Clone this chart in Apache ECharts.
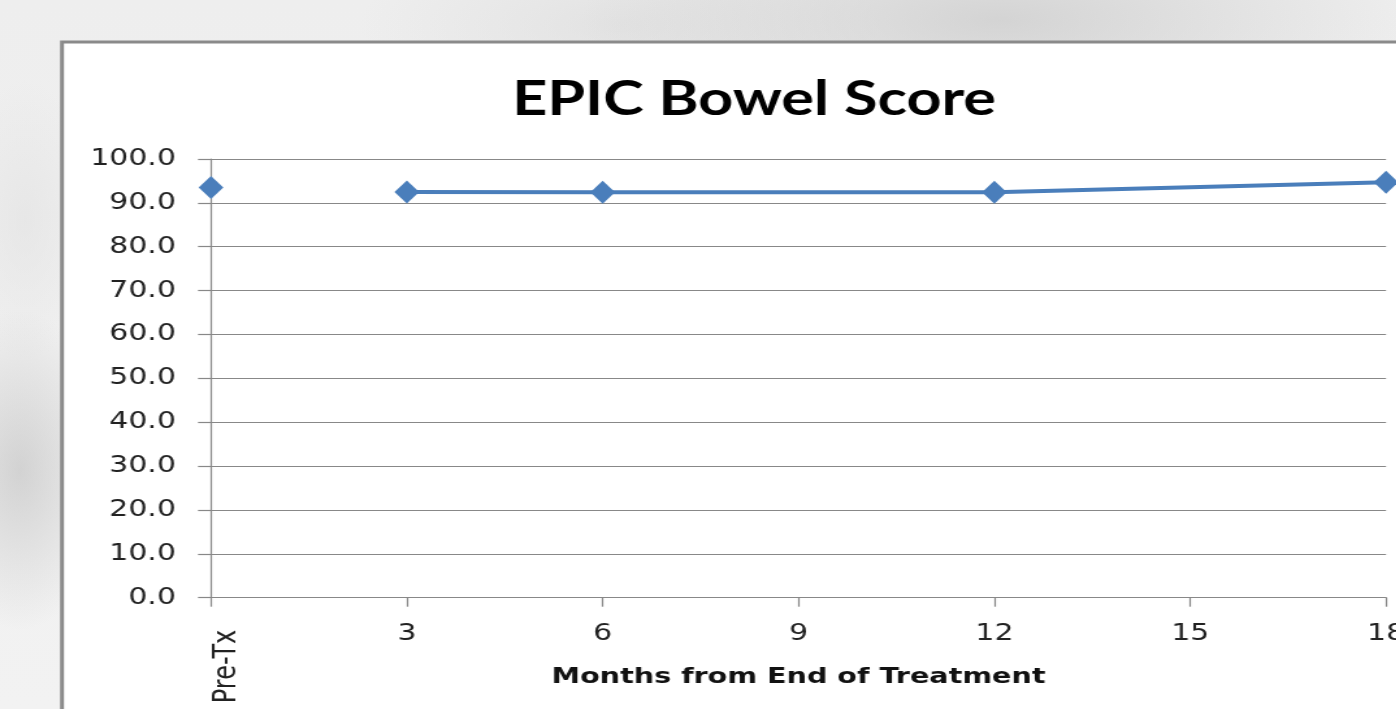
<!DOCTYPE html>
<html>
<head>
<meta charset="utf-8">
<title>EPIC Bowel Score</title>
<script src="https://cdn.jsdelivr.net/npm/echarts@6/dist/echarts.min.js"></script>
<style>
  html, body { margin: 0; padding: 0; width: 1396px; height: 709px; overflow: hidden; }
  body {
    background:
      radial-gradient(ellipse 420px 120px at 1000px 20px, rgba(190,190,190,0.55), rgba(190,190,190,0) 100%),
      radial-gradient(ellipse 260px 90px at 620px 25px, rgba(215,215,215,0.5), rgba(215,215,215,0) 100%),
      radial-gradient(ellipse 90px 160px at 20px 470px, rgba(190,190,190,0.6), rgba(190,190,190,0) 100%),
      radial-gradient(ellipse 70px 140px at 25px 220px, rgba(225,225,225,0.6), rgba(225,225,225,0) 100%),
      linear-gradient(180deg, #eeeeee 0%, #f2f2f2 100%);
  }
  /* the plot is laid out on a narrower canvas and widened to the page */
  #chart {
    position: absolute; left: 0; top: 0;
    width: 1074px; height: 709px;
    transform: scaleX(1.3); transform-origin: 0 0;
  }
</style>
</head>
<body>
<div id="chart"></div>
<script>
// EPIC bowel domain scores over follow-up
const titleText = 'EPIC Bowel Score';
const axisTitle = 'Months from End of Treatment';
const baselineLabel = 'Pre-Tx';
const baselineScore = 93.5;
const months = [3, 6, 12, 18];
const scores = [92.5, 92.4, 92.4, 94.7];
const yTicks = [0, 10, 20, 30, 40, 50, 60, 70, 80, 90, 100];
const xTicks = [0, 3, 6, 9, 12, 15, 18];

const blue = '#4a7ebb';
const axisGray = '#888888';
const labelFont = 'DejaVu Sans';

const chart = echarts.init(document.getElementById('chart'), null, { renderer: 'canvas' });

chart.setOption({
  animation: false,
  backgroundColor: 'transparent',
  graphic: [{
    type: 'rect',
    shape: { x: 47.7, y: 42, width: 1100, height: 700 },
    style: { fill: '#ffffff', stroke: '#8a8a8a', lineWidth: 3 },
    z: -10
  }],
  title: {
    text: titleText,
    left: 575,
    top: 71,
    textAlign: 'center',
    textStyle: { fontFamily: 'Lato', fontWeight: 'bold', fontSize: 47, color: '#000000' }
  },
  grid: { left: 162.3, right: 7.8, top: 159, bottom: 111.3, containLabel: false, outerBoundsMode: 'none' },
  xAxis: [{
    type: 'value',
    min: xTicks[0],
    max: xTicks[xTicks.length - 1],
    interval: xTicks[1] - xTicks[0],
    name: axisTitle,
    nameLocation: 'middle',
    nameGap: 69,
    nameTextStyle: { fontFamily: labelFont, fontWeight: 'bold', fontSize: 22, color: '#111111', verticalAlign: 'top' },
    axisLine: { show: true, lineStyle: { color: axisGray, width: 1.2 } },
    axisTick: { show: true, inside: false, length: 9, lineStyle: { color: axisGray, width: 1.2 } },
    splitLine: { show: false },
    axisLabel: {
      margin: 25,
      fontFamily: labelFont, fontSize: 23, color: '#222222',
      formatter: v => (v === xTicks[0] ? '' : String(v))
    }
  }, {
    type: 'value',
    position: 'bottom',
    min: xTicks[0],
    max: xTicks[xTicks.length - 1],
    interval: xTicks[xTicks.length - 1],
    axisLine: { show: false },
    axisTick: { show: false },
    splitLine: { show: false },
    axisLabel: {
      rotate: 90,
      margin: 32,
      verticalAlign: 'top',
      fontFamily: labelFont, fontSize: 24, color: '#222222',
      formatter: v => (v === xTicks[0] ? baselineLabel : '')
    }
  }],
  yAxis: {
    type: 'value',
    min: yTicks[0],
    max: yTicks[yTicks.length - 1],
    interval: yTicks[1] - yTicks[0],
    axisLine: { show: true, lineStyle: { color: axisGray, width: 1.2 } },
    axisTick: { show: true, inside: false, length: 10, lineStyle: { color: axisGray, width: 1.2 } },
    splitLine: { show: true, lineStyle: { color: axisGray, width: 1.2 } },
    axisLabel: {
      margin: 27,
      fontFamily: labelFont, fontSize: 23, color: '#222222',
      formatter: v => v.toFixed(1)
    }
  },
  series: [{
    name: baselineLabel,
    type: 'line',
    data: [[xTicks[0], baselineScore]],
    symbol: 'diamond',
    symbolSize: [19, 23],
    itemStyle: { color: blue },
    lineStyle: { color: blue, width: 4 },
    z: 3
  }, {
    name: 'Follow-up',
    type: 'line',
    data: months.map((m, i) => [m, scores[i]]),
    symbol: 'diamond',
    symbolSize: [19, 23],
    itemStyle: { color: blue },
    lineStyle: { color: blue, width: 4 },
    z: 3
  }]
});
</script>
</body>
</html>
